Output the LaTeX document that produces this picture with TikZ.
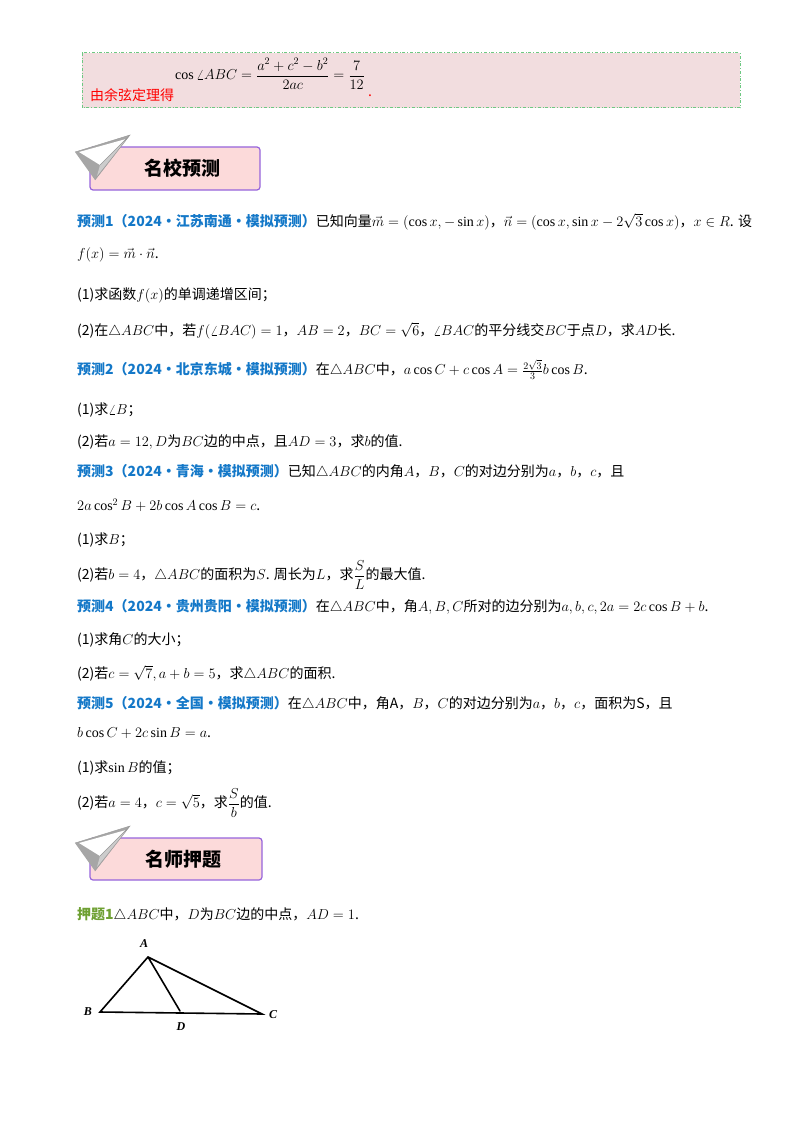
\documentclass[tikz,border=0pt]{standalone}
\usepackage{fontspec}
\setmainfont{Liberation Serif}
\newfontfamily\cjk{Noto Sans CJK SC}
\usepackage{amsmath}
\definecolor{lblue}{RGB}{20,120,200}
\definecolor{lgreen}{RGB}{110,160,50}
\definecolor{boxpink}{RGB}{242,221,223}
\definecolor{hpink}{RGB}{252,218,218}
\definecolor{hpurple}{RGB}{150,100,220}
\definecolor{dgreen}{RGB}{110,200,130}
\begin{document}
\begin{tikzpicture}[x=1pt,y=-1pt,
  t/.style={anchor=west,inner sep=0pt,font=\fontsize{14}{16}\selectfont\cjk},
  hdr/.style={draw=hpurple,line width=1.2pt,fill=hpink,rounded corners=3pt},
  tri/.style={line width=1.6pt,line cap=round},
  pt/.style={font=\fontsize{12}{14}\selectfont\bfseries\itshape}]
\useasboundingbox (0,0) rectangle (800,1134);
% top box
\draw[draw=dgreen,fill=boxpink,dash dot,line width=1pt] (82,53) rectangle (740,108);
\node[t,text=red] (yx) at (90,95) {由余弦定理得};
\node[t,font=\fontsize{14}{16}\selectfont] (f0) at (175,74) {$\cos\angle ABC=\dfrac{a^2+c^2-b^2}{2ac}=\dfrac{7}{12}$};
\node[t,text=red] at (368,96) {.};
% header 1
\draw[hdr] (90,147) rectangle (260,190);
\node[font=\fontsize{19}{21}\selectfont\cjk\bfseries] (h1) at (182,168) {名校预测};
\fill[gray!70] (75,152) -- (130,135) -- (95,180) -- cycle;
\fill[white] (79,152) -- (126,139) -- (100,165) -- cycle;
\fill[gray!40] (100,165) -- (130,135) -- (97,176) -- cycle;
\draw[gray!80] (75,152) -- (130,135) -- (95,180) (100,165) -- (130,135);
% 预测1
\node[t] (p1) at (77,222) {\textcolor{lblue}{\bfseries 预测1（2024·江苏南通·模拟预测）}已知向量$\vec m=(\cos x,-\sin x)$，$\vec n=(\cos x,\sin x-2\sqrt3\cos x)$，$x\in R$. 设};
\node[t] at (77,255) {$f(x)=\vec m\cdot\vec n$.};
\node[t] at (77,295) {(1)求函数$f(x)$的单调递增区间；};
\node[t] at (77,331) {(2)在$\triangle ABC$中，若$f(\angle BAC)=1$，$AB=2$，$BC=\sqrt6$，$\angle BAC$的平分线交$BC$于点$D$，求$AD$长.};
\node[t] at (77,370) {\textcolor{lblue}{\bfseries 预测2（2024·北京东城·模拟预测）}在$\triangle ABC$中，$a\cos C+c\cos A=\frac{2\sqrt3}{3}b\cos B$.};
\node[t] at (77,410) {(1)求$\angle B$；};
\node[t] at (77,442) {(2)若$a=12,D$为$BC$边的中点，且$AD=3$，求$b$的值.};
\node[t] at (77,472) {\textcolor{lblue}{\bfseries 预测3（2024·青海·模拟预测）}已知$\triangle ABC$的内角$A$，$B$，$C$的对边分别为$a$，$b$，$c$，且};
\node[t] at (77,505) {$2a\cos^2B+2b\cos A\cos B=c$.};
\node[t] at (77,540) {(1)求$B$；};
\node[t] at (77,575) {(2)若$b=4$，$\triangle ABC$的面积为$S$. 周长为$L$，求$\dfrac{S}{L}$的最大值.};
\node[t] at (77,607) {\textcolor{lblue}{\bfseries 预测4（2024·贵州贵阳·模拟预测）}在$\triangle ABC$中，角$A,B,C$所对的边分别为$a,b,c,2a=2c\cos B+b$.};
\node[t] at (77,640) {(1)求角$C$的大小；};
\node[t] at (77,673) {(2)若$c=\sqrt7,a+b=5$，求$\triangle ABC$的面积.};
\node[t] at (77,704) {\textcolor{lblue}{\bfseries 预测5（2024·全国·模拟预测）}在$\triangle ABC$中，角A，$B$，$C$的对边分别为$a$，$b$，$c$，面积为S，且};
\node[t] at (77,733) {$b\cos C+2c\sin B=a$.};
\node[t] at (77,768) {(1)求$\sin B$的值；};
\node[t] at (77,803) {(2)若$a=4$，$c=\sqrt5$，求$\dfrac{S}{b}$的值.};
% header 2
\draw[hdr] (90,838) rectangle (262,880);
\node[font=\fontsize{19}{21}\selectfont\cjk\bfseries] (h2) at (183,859) {名师押题};
\fill[gray!70] (75,843) -- (130,826) -- (95,871) -- cycle;
\fill[white] (79,843) -- (126,830) -- (100,856) -- cycle;
\fill[gray!40] (100,856) -- (130,826) -- (97,867) -- cycle;
\draw[gray!80] (75,843) -- (130,826) -- (95,871) (100,856) -- (130,826);
\node[t] at (77,915) {\textcolor{lgreen}{\bfseries 押题1}$\triangle ABC$中，$D$为$BC$边的中点，$AD=1$.};
% triangle
\coordinate (A) at (148,957);
\coordinate (B) at (100,1012);
\coordinate (D) at (180,1011);
\coordinate (C) at (262,1014);
\draw[tri] (A) -- (B) -- (C) -- cycle (A) -- (D);
\node[pt] at (144,944) {A};
\node[pt] at (88,1012) {B};
\node[pt] at (181,1027) {D};
\node[pt] at (273,1015) {C};
\end{tikzpicture}
\end{document}
